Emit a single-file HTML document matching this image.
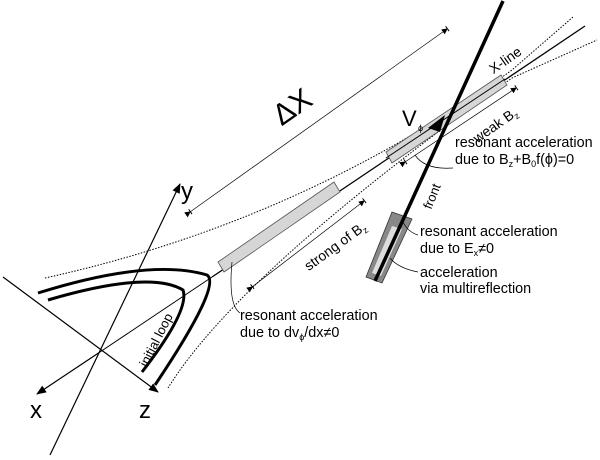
<!DOCTYPE html>
<html><head><style>
html,body{margin:0;padding:0;background:#fff;}
svg{display:block;}
text{font-family:"Liberation Sans",sans-serif;fill:#000;}
</style></head><body>
<svg width="600" height="460" viewBox="0 0 600 460" xmlns="http://www.w3.org/2000/svg">
<defs>
<marker id="ah" markerWidth="10" markerHeight="8" refX="9" refY="4" orient="auto" markerUnits="userSpaceOnUse"><path d="M0,0 L10,4 L0,8 Z" fill="#000"/></marker>
<marker id="sa" markerWidth="6" markerHeight="6" refX="5" refY="3" orient="auto" markerUnits="userSpaceOnUse"><path d="M0,0 L6,3 L0,6 Z" fill="#000"/><line x1="5.5" y1="0" x2="5.5" y2="6" stroke="#000" stroke-width="1"/></marker>
</defs>
<line x1="50" y1="455" x2="180" y2="184" stroke="#000" stroke-width="1.2" marker-end="url(#ah)"/>
<line x1="100" y1="352" x2="37" y2="394" stroke="#000" stroke-width="1.2" marker-end="url(#ah)"/>
<line x1="3" y1="277" x2="158" y2="392" stroke="#000" stroke-width="1.2" marker-end="url(#ah)"/>
<line x1="100" y1="352" x2="212" y2="277" stroke="#000" stroke-width="1"/>
<text x="30" y="418" font-size="24">x</text>
<text x="139" y="418" font-size="24">z</text>
<text x="181" y="199" font-size="24">y</text>
<path d="M45,278 Q300,222 512,70 L573,17" fill="none" stroke="#000" stroke-width="1" stroke-dasharray="1.5,1.5"/>
<path d="M168,388 Q240,272 512,78 L597,40" fill="none" stroke="#000" stroke-width="1" stroke-dasharray="1.5,1.5"/>
<line x1="212" y1="277" x2="585" y2="26" stroke="#000" stroke-width="1.3"/>
<polygon points="218,262 334,182 340,192 224,272" fill="#d6d6d6" stroke="#555" stroke-width="0.8"/>
<polygon points="386,152 501,75 507,85 392,163" fill="#d6d6d6" stroke="#555" stroke-width="0.8"/>
<line x1="386" y1="158" x2="505" y2="79" stroke="#000" stroke-width="1"/>
<path d="M38,293 Q150,258 207,275 Q222,285 155,385" fill="none" stroke="#000" stroke-width="3"/>
<path d="M48,300 Q150,270 183,290 Q190,310 142,372" fill="none" stroke="#000" stroke-width="3"/>
<text transform="translate(160,342) rotate(-63)" font-size="13" text-anchor="middle">initial loop</text>
<polygon points="392,212 412,219 382,283 366,277" fill="#888" stroke="#333" stroke-width="0.8"/>
<polygon points="392,226 402,229 381,276 372,273" fill="#ddd"/>
<line x1="503" y1="1" x2="375" y2="281" stroke="#000" stroke-width="3.5"/>
<text transform="translate(436,198) rotate(-68)" font-size="13" text-anchor="middle">front</text>
<path d="M445,115 L428,128 L440,132 Z" fill="#000"/>
<text x="402" y="126" font-size="22">V</text><text x="418" y="131" font-size="9">ϕ</text>
<line x1="190" y1="212" x2="447" y2="29" stroke="#000" stroke-width="0.7" marker-start="url(#sa)" marker-end="url(#sa)"/>
<line x1="252" y1="287" x2="364" y2="201" stroke="#000" stroke-width="0.7" marker-start="url(#sa)" marker-end="url(#sa)"/>
<line x1="405" y1="162" x2="516" y2="88" stroke="#000" stroke-width="0.7" marker-start="url(#sa)" marker-end="url(#sa)"/>
<text transform="translate(298,115) rotate(-35)" font-size="30" text-anchor="middle">ΔX</text>
<text transform="translate(338,250) rotate(-36)" font-size="14" text-anchor="middle">strong of B<tspan font-size="9" dy="3">z</tspan></text>
<text transform="translate(498,129) rotate(-35)" font-size="14" text-anchor="middle">weak B<tspan font-size="9" dy="3">z</tspan></text>
<text transform="translate(508,64) rotate(-35)" font-size="14" text-anchor="middle">X-line</text>
<path d="M232,262 Q228,305 240,313" fill="none" stroke="#000" stroke-width="0.7"/>
<path d="M415,155 Q425,170 453,168" fill="none" stroke="#000" stroke-width="0.7"/>
<path d="M403,222 Q408,232 418,235" fill="none" stroke="#000" stroke-width="0.7"/>
<path d="M390,258 Q398,268 418,272" fill="none" stroke="#000" stroke-width="0.7"/>
<text x="240" y="320" font-size="14.4">resonant acceleration</text>
<text x="240" y="337" font-size="14.4">due to dv<tspan font-size="9" dy="3">ϕ</tspan><tspan dy="-3">/dx≠0</tspan></text>
<text x="455" y="147" font-size="14.4">resonant acceleration</text>
<text x="455" y="164" font-size="14.4">due to B<tspan font-size="9" dy="3">z</tspan><tspan dy="-3">+B</tspan><tspan font-size="9" dy="3">0</tspan><tspan dy="-3">f(ϕ)=0</tspan></text>
<text x="420" y="236" font-size="14.4">resonant acceleration</text>
<text x="420" y="253" font-size="14.4">due to E<tspan font-size="9" dy="3">x</tspan><tspan dy="-3">≠0</tspan></text>
<text x="420" y="277" font-size="14.4">acceleration</text>
<text x="420" y="293" font-size="14.4">via multireflection</text>
</svg>
</body></html>
